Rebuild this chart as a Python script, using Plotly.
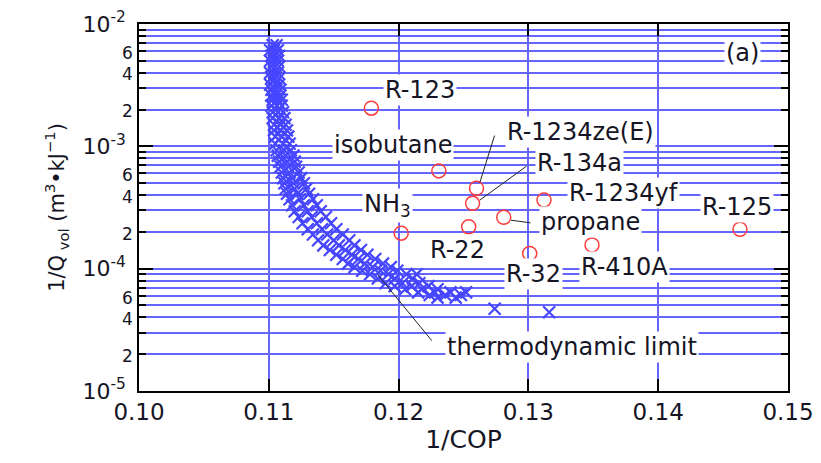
import numpy as np
import plotly.graph_objects as go

# ---- thermodynamic-limit cloud (x marks), read row by row ----
limit_rows = [
    (6.7e-3, [0.1103, 0.1106]),
    (6.1e-3, [0.1101, 0.1104, 0.1107]),
    (5.5e-3, [0.1102, 0.1105, 0.1108]),
    (5.0e-3, [0.1101, 0.1104, 0.1107]),
    (4.5e-3, [0.1102, 0.1105, 0.1108]),
    (4.0e-3, [0.1101, 0.1104, 0.1107]),
    (3.6e-3, [0.1102, 0.1105, 0.1108]),
    (3.2e-3, [0.1101, 0.1105, 0.1108]),
    (2.9e-3, [0.1102, 0.1106, 0.1109]),
    (2.6e-3, [0.1102, 0.1105, 0.1109]),
    (2.4e-3, [0.1103, 0.1107, 0.1110]),
    (2.15e-3, [0.1102, 0.1106, 0.1110]),
    (1.9e-3, [0.1103, 0.1107, 0.1111]),
    (1.7e-3, [0.1103, 0.1108, 0.1112]),
    (1.5e-3, [0.1104, 0.1109, 0.1113]),
    (1.35e-3, [0.1104, 0.1109, 0.1114]),
    (1.2e-3, [0.1105, 0.1110, 0.1115]),
    (1.05e-3, [0.1105, 0.1111, 0.1116]),
    (9.3e-4, [0.1106, 0.1112, 0.1117]),
    (8.4e-4, [0.1107, 0.1113, 0.1119]),
    (7.5e-4, [0.1108, 0.1114, 0.1120]),
    (6.8e-4, [0.1109, 0.1115, 0.1121]),
    (6.1e-4, [0.1110, 0.1116, 0.1123]),
    (5.5e-4, [0.1111, 0.1118, 0.1125]),
    (5.0e-4, [0.1112, 0.1119, 0.1127]),
    (4.5e-4, [0.1113, 0.1120, 0.1129]),
    (4.1e-4, [0.1114, 0.1122, 0.1131]),
    (3.7e-4, [0.1116, 0.1124, 0.1134]),
    (3.3e-4, [0.1118, 0.1127, 0.1137]),
    (2.95e-4, [0.1120, 0.1130, 0.1140]),
    (2.64e-4, [0.1123, 0.1133, 0.1144]),
    (2.35e-4, [0.1126, 0.1137, 0.1148]),
    (2.1e-4, [0.1130, 0.1141, 0.1152]),
    (1.9e-4, [0.1134, 0.1145, 0.1157]),
    (1.71e-4, [0.1138, 0.1150, 0.1162]),
    (1.55e-4, [0.1142, 0.1154, 0.1166]),
    (1.42e-4, [0.1147, 0.1159, 0.1171]),
    (1.3e-4, [0.1152, 0.1164, 0.1176]),
    (1.2e-4, [0.1157, 0.1169, 0.1182]),
    (1.1e-4, [0.1161, 0.1174, 0.1188]),
    (1.03e-4, [0.1166, 0.1180, 0.1194]),
    (9.6e-5, [0.1172, 0.1186, 0.1199]),
    (9.0e-5, [0.1178, 0.1192, 0.1206, 0.1214]),
    (8.3e-5, [0.1184, 0.1197, 0.1211]),
    (7.6e-5, [0.1190, 0.1203, 0.1216]),
    (7.2e-5, [0.1197, 0.1210, 0.1223]),
    (6.8e-5, [0.1205, 0.1218, 0.1230]),
    (6.4e-5, [0.1215, 0.1228, 0.1240, 0.1252]),
    (6.1e-5, [0.1224, 0.1236, 0.1248]),
    (5.8e-5, [0.1230, 0.1244]),
    (4.7e-5, [0.1274]),
    (4.4e-5, [0.1316]),
]
limit_x = [x for y, xs in limit_rows for x in xs]
limit_y = [y for y, xs in limit_rows for x in xs]

# ---- refrigerants (open circles) ----
refrigerants = ["R-123", "isobutane", "R-1234ze(E)", "R-134a", "propane", "NH3",
                "R-22", "R-1234yf", "R-125", "R-32", "R-410A"]
ref_cop = [0.1179, 0.1231, 0.1260, 0.1257, 0.1281, 0.1202, 0.1254, 0.1312, 0.1463, 0.1301, 0.1349]
ref_q = [2.05e-3, 6.3e-4, 4.54e-4, 3.42e-4, 2.63e-4, 1.95e-4, 2.2e-4, 3.64e-4, 2.1e-4, 1.33e-4, 1.56e-4]

# ---- labels ----
label_text = ["R-123", "isobutane", "R-1234ze(E)", "R-134a", "R-1234yf", "R-125", "propane",
              "NH<sub>3</sub>", "R-22", "R-32", "R-410A", "thermodynamic limit", "(a)"]
label_x = [0.12165, 0.11957, 0.13405, 0.13397, 0.13729, 0.14607, 0.13482,
           0.11918, 0.1245, 0.13043, 0.13744, 0.13336, 0.14646]
label_y = [2.88e-3, 1.03e-3, 1.31e-3, 7.3e-4, 4.15e-4, 3.19e-4, 2.4e-4,
           3.31e-4, 1.42e-4, 9.04e-5, 1.03e-4, 2.29e-5, 5.79e-3]

# leader lines: (head x, head y, tail x, tail y)
leaders = [
    (0.12627, 5.1e-4, 0.12743, 1.26e-3),
    (0.12627, 3.64e-4, 0.12997, 7.03e-4),
    (0.12866, 2.49e-4, 0.13028, 2.36e-4),
    (0.11841, 8.87e-5, 0.12265, 2.51e-5),
]

# ---- axes ticks ----
x_ticks = [0.10, 0.11, 0.12, 0.13, 0.14, 0.15]
x_ticktext = ["0.10", "0.11", "0.12", "0.13", "0.14", "0.15"]
decades = [1e-5, 1e-4, 1e-3, 1e-2]
decade_text = ["10<sup>-5</sup>", "10<sup>-4</sup>", "10<sup>-3</sup>", "10<sup>-2</sup>"]
labelled_minor = [2, 4, 6]
unlabelled_minor = [3, 5, 7, 8, 9]

y_tickvals, y_ticktext = [], []
for d, t in zip(decades, decade_text):
    y_tickvals.append(d)
    y_ticktext.append(t + "\u00a0")
    if d < 1e-2:
        for m in labelled_minor:
            y_tickvals.append(d * m)
            y_ticktext.append("<span style='font-size:17px'>%d</span>" % m)
y_minorvals = [d * m for d in decades[:-1] for m in unlabelled_minor]

GRID = "#6666ff"
BLUE = "#4646ff"
RED = "#ff3b3b"
FONT = "DejaVu Sans"
TXT = "#151525"

fig = go.Figure()
fig.add_trace(go.Scatter(
    x=limit_x, y=limit_y, mode="markers",
    marker=dict(symbol="x-thin", size=12, line=dict(color=BLUE, width=2.2)),
    showlegend=False, hoverinfo="skip"))
fig.add_trace(go.Scatter(
    x=ref_cop, y=ref_q, mode="markers",
    marker=dict(symbol="circle-open", size=14, color=RED, line=dict(color=RED, width=1.5)),
    showlegend=False, hoverinfo="skip"))
fig.add_trace(go.Scatter(x=[None], y=[None], yaxis="y2", xaxis="x",
                         showlegend=False, hoverinfo="skip"))

for hx, hy, tx, ty in leaders:
    fig.add_annotation(x=hx, y=np.log10(hy), ax=tx, ay=np.log10(ty),
                       xref="x", yref="y", axref="x", ayref="y",
                       text="", showarrow=True, arrowhead=0, arrowwidth=1,
                       arrowcolor="#222222")

for t, lx, ly in zip(label_text, label_x, label_y):
    fig.add_annotation(x=lx, y=np.log10(ly), xref="x", yref="y", text=t,
                       showarrow=False, bgcolor="white", borderpad=1,
                       font=dict(family=FONT, size=24, color=TXT))

fig.update_layout(
    width=821, height=463,
    margin=dict(l=139, r=33, t=24, b=72),
    paper_bgcolor="white", plot_bgcolor="white",
    font=dict(family=FONT, color=TXT),
    xaxis=dict(range=[0.10, 0.15], tickvals=x_ticks, ticktext=x_ticktext,
               ticks="inside", ticklen=12, tickwidth=1.5, tickcolor="black",
               showline=True, linecolor="black", linewidth=1.5, mirror="ticks",
               showgrid=True, gridcolor=GRID, gridwidth=1.5, zeroline=False,
               automargin=False,
               tickfont=dict(family=FONT, size=23, color=TXT),
               title=dict(text="1/COP", font=dict(family=FONT, size=25, color=TXT), standoff=6)),
    yaxis=dict(type="log", range=[-5, -2], tickvals=y_tickvals, ticktext=y_ticktext,
               ticks="inside", ticklen=7, tickwidth=1.5, tickcolor="black",
               showline=True, linecolor="black", linewidth=1.5, mirror="ticks",
               showgrid=True, gridcolor=GRID, gridwidth=1.5, zeroline=False,
               automargin=False,
               tickfont=dict(family=FONT, size=22, color=TXT),
               minor=dict(tickvals=y_minorvals, ticks="inside", ticklen=7, tickwidth=1.5,
                          tickcolor="black", showgrid=True, gridcolor=GRID, gridwidth=1.5),
               title=dict(text="1/Q<sub> vol</sub> (m<sup>3</sup>•kJ<sup>−1</sup>)",
                          font=dict(family=FONT, size=21, color=TXT), standoff=12)),
    yaxis2=dict(type="log", range=[-5, -2], overlaying="y", side="left", anchor="x",
                tickvals=decades, ticks="inside", ticklen=14, tickwidth=1.5,
                tickcolor="black", mirror="ticks", showline=False, automargin=False,
                showticklabels=False, showgrid=False, zeroline=False),
)

fig.write_html("out.html", config={"displayModeBar": False},
               post_script="document.body.style.margin='0';document.body.style.overflow='hidden';")
